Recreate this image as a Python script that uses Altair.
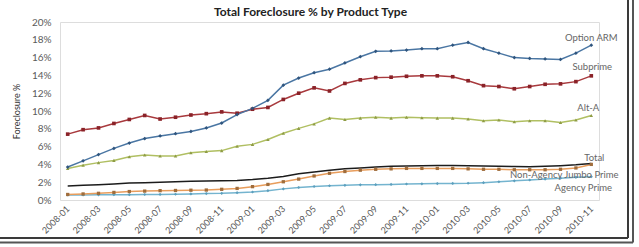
import altair as alt
import pandas as pd

months = [
    "2008-01", "2008-02", "2008-03", "2008-04", "2008-05", "2008-06", "2008-07",
    "2008-08", "2008-09", "2008-10", "2008-11", "2008-12", "2009-01", "2009-02",
    "2009-03", "2009-04", "2009-05", "2009-06", "2009-07", "2009-08", "2009-09",
    "2009-10", "2009-11", "2009-12", "2010-01", "2010-02", "2010-03", "2010-04",
    "2010-05", "2010-06", "2010-07", "2010-08", "2010-09", "2010-10", "2010-11",
]
x_tick_labels = [
    "2008-01", "2008-03", "2008-05", "2008-07", "2008-09", "2008-11",
    "2009-01", "2009-03", "2009-05", "2009-07", "2009-09", "2009-11",
    "2010-01", "2010-03", "2010-05", "2010-07", "2010-09", "2010-11",
]
y_ticks = [0, 2, 4, 6, 8, 10, 12, 14, 16, 18, 20]

option_arm = [3.7, 4.4, 5.1, 5.8, 6.4, 6.9, 7.2, 7.45, 7.7, 8.1, 8.65, 9.6, 10.3, 11.2,
              12.9, 13.7, 14.3, 14.7, 15.4, 16.1, 16.7, 16.75, 16.85, 17.0, 17.0, 17.4,
              17.7, 17.0, 16.5, 16.0, 15.9, 15.85, 15.8, 16.5, 17.4]
subprime = [7.4, 7.9, 8.1, 8.6, 9.05, 9.5, 9.1, 9.3, 9.55, 9.7, 9.9, 9.75, 10.2, 10.4,
            11.3, 12.0, 12.6, 12.25, 13.1, 13.5, 13.75, 13.8, 13.9, 13.95, 13.95, 13.85,
            13.4, 12.85, 12.75, 12.5, 12.75, 13.0, 13.05, 13.3, 13.95]
alt_a = [3.55, 3.9, 4.2, 4.45, 4.85, 5.05, 4.95, 4.95, 5.3, 5.45, 5.55, 6.05, 6.25, 6.8,
         7.5, 8.05, 8.55, 9.2, 9.05, 9.2, 9.3, 9.2, 9.3, 9.25, 9.2, 9.2, 9.1, 8.9, 9.0,
         8.8, 8.9, 8.9, 8.7, 9.0, 9.5]
total = [1.57, 1.65, 1.72, 1.8, 1.9, 1.95, 2.0, 2.05, 2.1, 2.13, 2.15, 2.2, 2.3, 2.45,
         2.65, 2.95, 3.15, 3.35, 3.5, 3.6, 3.7, 3.78, 3.82, 3.85, 3.87, 3.88, 3.85, 3.82,
         3.8, 3.76, 3.74, 3.78, 3.85, 3.95, 4.1]
non_agency_jumbo = [0.62, 0.68, 0.75, 0.85, 0.95, 1.0, 1.05, 1.07, 1.1, 1.12, 1.2, 1.3,
                    1.5, 1.75, 2.05, 2.35, 2.7, 3.0, 3.2, 3.35, 3.45, 3.5, 3.55, 3.55,
                    3.55, 3.55, 3.5, 3.45, 3.45, 3.4, 3.4, 3.4, 3.45, 3.6, 4.0]
agency_prime = [0.56, 0.57, 0.58, 0.6, 0.6, 0.62, 0.63, 0.65, 0.68, 0.72, 0.75, 0.82,
                0.9, 1.05, 1.25, 1.4, 1.52, 1.6, 1.65, 1.7, 1.72, 1.75, 1.8, 1.82, 1.84,
                1.86, 1.88, 1.95, 2.05, 2.15, 2.25, 2.35, 2.45, 2.55, 2.62]

series_names = ["Agency Prime", "Non-Agency Jumbo Prime", "Total", "Alt-A",
                "Subprime", "Option ARM"]
series_values = [agency_prime, non_agency_jumbo, total, alt_a, subprime, option_arm]
line_colors = ["#74b4cf", "#e89d5c", "#1c1c1c", "#b0bf62", "#a8393d", "#4a76a3"]
marker_colors = ["#5c9fbd", "#a06d3c", "#1c1c1c", "#8e9c45", "#8a2228", "#2f557e"]
marker_shapes = ["diamond", "square", "circle", "triangle-up", "square", "diamond"]
marker_sizes = [10, 14, 0, 14, 26, 12]
line_widths = [1.5, 1.5, 2.0, 1.5, 1.6, 1.6]
label_dx = [-8, -27, 3, -3, 1, 0]
label_dy = [11, 11, -6, -7, -9, -7]

rows = []
for name, vals in zip(series_names, series_values):
    for m, v in zip(months, vals):
        rows.append({"series": name, "month": m, "value": v})
df = pd.DataFrame(rows)

last = df[df["month"] == months[-1]].copy()

x_enc = alt.X("month:O", sort=months,
              scale=alt.Scale(type="point", padding=0.5),
              axis=alt.Axis(values=x_tick_labels, labelAngle=-45, labelAlign="right",
                            labelBaseline="middle", labelPadding=7, ticks=False,
                            domain=False, grid=False, labelFont="Lato", labelFontSize=9,
                            labelColor="#555555", labelOverlap=False, title=None))
y_enc = alt.Y("value:Q", scale=alt.Scale(domain=[0, 20], nice=False),
              axis=alt.Axis(values=y_ticks, labelExpr="datum.value + '%'", ticks=False,
                            domain=False, grid=False, labelFont="Lato", labelFontSize=10,
                            labelColor="#5a5a5a", labelPadding=9, labelOverlap=False,
                            title="Foreclosure %", titleFont="Lato", titleFontSize=9,
                            titleFontWeight="normal", titleColor="#333333",
                            titlePadding=10))

lines = alt.Chart(df).mark_line().encode(
    x=x_enc, y=y_enc,
    color=alt.Color("series:N", scale=alt.Scale(domain=series_names, range=line_colors),
                    legend=None),
    strokeWidth=alt.StrokeWidth("series:N",
                                scale=alt.Scale(domain=series_names, range=line_widths),
                                legend=None),
    detail="series:N",
)

points = alt.Chart(df).mark_point(filled=True, opacity=1).encode(
    x=x_enc, y=y_enc,
    fill=alt.Fill("series:N", scale=alt.Scale(domain=series_names, range=marker_colors),
                  legend=None),
    shape=alt.Shape("series:N", scale=alt.Scale(domain=series_names, range=marker_shapes),
                    legend=None),
    size=alt.Size("series:N", scale=alt.Scale(domain=series_names, range=marker_sizes),
                  legend=None),
).transform_filter(alt.datum.series != "Total")

labels = []
for name, dx, dy in zip(series_names, label_dx, label_dy):
    labels.append(
        alt.Chart(last[last["series"] == name]).mark_text(
            font="Lato", fontSize=9.5, color="#666666", align="center",
            baseline="middle", dx=dx, dy=dy
        ).encode(x=x_enc, y=y_enc, text="series:N")
    )

one = pd.DataFrame({"k": [0]})
frame = [
    alt.Chart(one).mark_rule(color="#3a3a3a", strokeWidth=2).encode(
        x=alt.value(-60), x2=alt.value(568), y=alt.value(216)),
    alt.Chart(one).mark_rule(color="#555555", strokeWidth=2).encode(
        x=alt.value(-60), x2=alt.value(573), y=alt.value(220.5)),
    alt.Chart(one).mark_rule(color="#3a3a3a", strokeWidth=2).encode(
        x=alt.value(568), y=alt.value(-22), y2=alt.value(216)),
    alt.Chart(one).mark_rule(color="#555555", strokeWidth=2).encode(
        x=alt.value(573), y=alt.value(-22), y2=alt.value(220.5)),
]

chart = alt.layer(lines, points, *labels, *frame).properties(
    width=539, height=178,
    title=alt.TitleParams("Total Foreclosure % by Product Type", font="Lato",
                          fontSize=12, fontWeight="bold", color="#222222",
                          anchor="middle", frame="group", dx=-19, offset=-20),
    autosize=alt.AutoSizeParams(type="none"),
    padding={"left": 60, "top": 22, "right": 40, "bottom": 47},
).configure_view(stroke=None).configure_axis(labelOverlap=False).configure(
    background="white")

chart.save("out.html", embed_options={"renderer": "svg", "actions": False})
